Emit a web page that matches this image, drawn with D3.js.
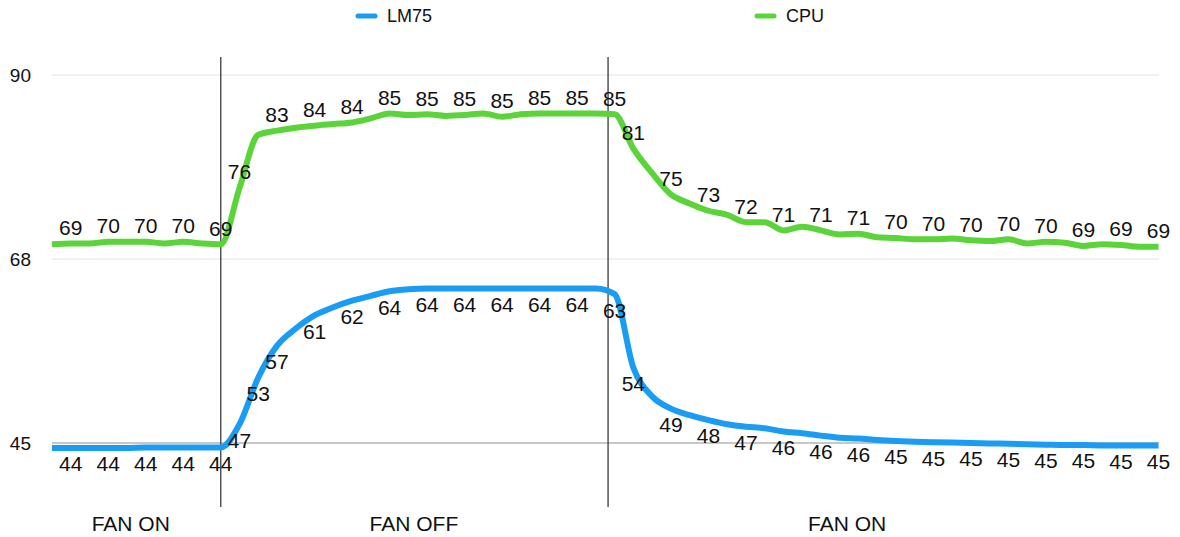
<!DOCTYPE html>
<html>
<head>
<meta charset="utf-8">
<script src="https://cdn.jsdelivr.net/npm/d3@7"></script>
<style>
  body { margin: 0; background: #fff; }
  text { font-family: "Liberation Sans", Arial, Helvetica, sans-serif; fill: #111; }
</style>
</head>
<body>
<script>
// temperature readings, one per sample
var lm75 = [44.4, 44.4, 44.4, 44.4, 44.4, 44.45, 44.45, 44.45, 44.45, 44.45,
  47.3, 53.0, 56.9, 59.0, 60.6, 61.6, 62.4, 63.0, 63.55, 63.8,
  63.9, 63.9, 63.9, 63.9, 63.9, 63.9, 63.9, 63.9, 63.9, 63.9,
  63.2, 54.2, 50.7, 49.2, 48.4, 47.8, 47.3, 47.0, 46.8, 46.4,
  46.2, 45.9, 45.65, 45.55, 45.37, 45.24, 45.15, 45.1, 45.05, 45.0,
  44.95, 44.9, 44.85, 44.8, 44.75, 44.75, 44.7, 44.7, 44.7, 44.7];

var cpu = [69.3, 69.4, 69.4, 69.6, 69.6, 69.6, 69.4, 69.6, 69.4, 69.3,
  76.2, 82.7, 83.2, 83.55, 83.8, 84.0, 84.2, 84.7, 85.3, 85.1,
  85.2, 85.0, 85.1, 85.3, 84.9, 85.2, 85.3, 85.3, 85.3, 85.3,
  85.2, 81.0, 78.0, 75.4, 74.3, 73.4, 72.9, 72.0, 72.0, 71.0,
  71.45, 71.0, 70.5, 70.6, 70.15, 70.07, 69.9, 69.9, 70.0, 69.8,
  69.7, 69.9, 69.4, 69.6, 69.5, 69.1, 69.3, 69.2, 69.0, 69.0];

// which samples carry a value label
var lm75Labeled = [1, 3, 5, 7, 9, 10, 11, 12, 14, 16, 18, 20, 22, 24, 26, 28, 30,
  31, 33, 35, 37, 39, 41, 43, 45, 47, 49, 51, 53, 55, 57, 59];
var cpuLabeled = [1, 3, 5, 7, 9, 10, 12, 14, 16, 18, 20, 22, 24, 26, 28, 30,
  31, 33, 35, 37, 39, 41, 43, 45, 47, 49, 51, 53, 55, 57, 59];

var yTicks = [45, 67.5, 90];
var phaseBreaks = [9, 29.65];
var phaseNames = ['FAN ON', 'FAN OFF', 'FAN ON'];
var phaseNameAt = [4.2, 19.3, 42.4];

var width = 1180, height = 537;
var blue = '#1a9cf5', green = '#5bd43a';

var svg = d3.select('body').append('svg')
  .attr('width', width)
  .attr('height', height);

var x = d3.scaleLinear().domain([0, lm75.length - 1]).range([52, 1158.5]);
var y = d3.scaleLinear().domain([45, 90]).range([443, 75]);

// grid
svg.selectAll('.grid')
  .data(yTicks)
  .enter()
  .append('line')
  .attr('class', 'grid')
  .attr('x1', 52)
  .attr('x2', 1159)
  .attr('y1', function(d) { return y(d); })
  .attr('y2', function(d) { return y(d); })
  .attr('stroke', function(d, i) { return i === 0 ? '#b4b4b4' : '#ececec'; })
  .attr('stroke-width', 1.5);

svg.selectAll('.ytick')
  .data(yTicks)
  .enter()
  .append('text')
  .attr('class', 'ytick')
  .attr('x', 31)
  .attr('y', function(d) { return y(d); })
  .attr('dy', '0.35em')
  .attr('text-anchor', 'end')
  .style('font-size', '19px')
  .text(function(d) { return Math.round(d); });

// phase separators
svg.selectAll('.phase')
  .data(phaseBreaks)
  .enter()
  .append('line')
  .attr('class', 'phase')
  .attr('x1', function(d) { return x(d); })
  .attr('x2', function(d) { return x(d); })
  .attr('y1', 57)
  .attr('y2', 507)
  .attr('stroke', '#2a2a2a')
  .attr('stroke-width', 1.2);

svg.selectAll('.phaseName')
  .data(phaseNames)
  .enter()
  .append('text')
  .attr('class', 'phaseName')
  .attr('x', function(d, i) { return x(phaseNameAt[i]); })
  .attr('y', 531)
  .attr('text-anchor', 'middle')
  .style('font-size', '21px')
  .text(function(d) { return d; });

var line = d3.line()
  .x(function(d, i) { return x(i); })
  .y(function(d) { return y(d); })
  .curve(d3.curveMonotoneX);

var series = [
  {name: 'LM75', values: lm75, color: blue, labeled: lm75Labeled, dy: 16},
  {name: 'CPU', values: cpu, color: green, labeled: cpuLabeled, dy: -16}
];

series.forEach(function(s) {
  svg.append('path')
    .datum(s.values)
    .attr('d', line)
    .attr('fill', 'none')
    .attr('stroke', s.color)
    .attr('stroke-width', 6)
    .attr('stroke-linejoin', 'round');
});

series.forEach(function(s) {
  svg.selectAll('.lbl-' + s.name)
    .data(s.labeled)
    .enter()
    .append('text')
    .attr('class', 'lbl-' + s.name)
    .attr('x', function(i) { return x(i); })
    .attr('y', function(i) { return y(s.values[i]) + s.dy; })
    .attr('dy', '0.35em')
    .attr('text-anchor', 'middle')
    .style('font-size', '21px')
    .text(function(i) { return Math.round(s.values[i]); });
});

// legend
var legend = svg.selectAll('.legend')
  .data(series)
  .enter()
  .append('g')
  .attr('class', 'legend')
  .attr('transform', function(d, i) { return 'translate(' + (358 + i * 399) + ',16)'; });

legend.append('line')
  .attr('x1', 0)
  .attr('x2', 17)
  .attr('stroke', function(d) { return d.color; })
  .attr('stroke-width', 5)
  .attr('stroke-linecap', 'round');

legend.append('text')
  .attr('x', 29)
  .attr('dy', '0.35em')
  .style('font-size', '18px')
  .text(function(d) { return d.name; });
</script>
</body>
</html>
